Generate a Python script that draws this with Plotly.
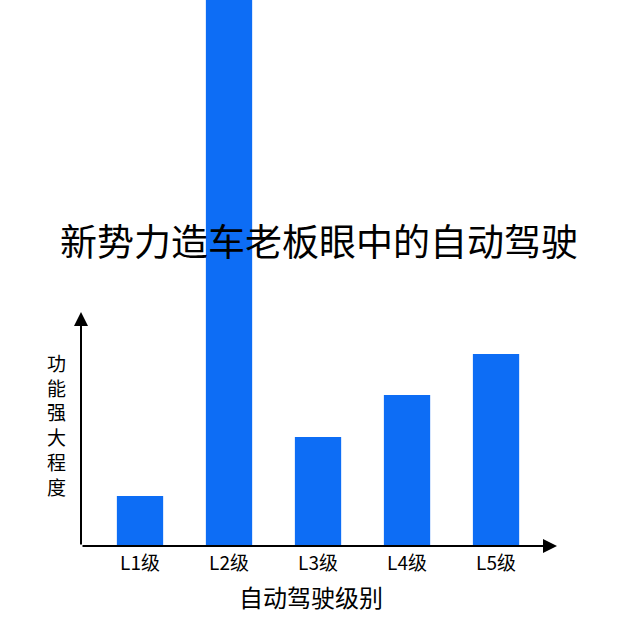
import plotly.graph_objects as go

levels = ["L1级", "L2级", "L3级", "L4级", "L5级"]
power = [1.0, 12.0, 2.18, 3.02, 3.84]

chart_title = "新势力造车老板眼中的自动驾驶"
x_label = "自动驾驶级别"
y_label = "功能强大程度"

font_family = "Noto Sans CJK SC"
bar_color = "#0D6DF5"

# plot box: x 81..557 px, y 0..546 px (50 px per unit)
x_lo, x_hi = -0.663, 4.685
y_top = 10.92
arrow_top = 4.68

fig = go.Figure()
fig.add_trace(go.Bar(
    x=levels,
    y=power,
    marker=dict(color=bar_color, line=dict(width=0)),
    width=0.52,
    hoverinfo="skip",
))

# axis arrows
fig.add_annotation(x=x_hi, y=0, ax=x_lo, ay=0, xref="x", yref="y", axref="x", ayref="y",
                   text="", showarrow=True, arrowhead=2, arrowsize=1.4, arrowwidth=2,
                   arrowcolor="black", standoff=0, startstandoff=0)
fig.add_annotation(x=x_lo, y=arrow_top, ax=x_lo, ay=0, xref="x", yref="y", axref="x", ayref="y",
                   text="", showarrow=True, arrowhead=2, arrowsize=1.4, arrowwidth=2,
                   arrowcolor="black", standoff=0, startstandoff=0)

# x axis title
fig.add_annotation(x=0.483, y=-0.0934, xref="paper", yref="paper", text=x_label,
                   showarrow=False, xanchor="center", yanchor="middle",
                   font=dict(family=font_family, size=24, color="black"))

# vertical y title, one character per line
fig.add_annotation(x=-0.0525, y=(546 - 424) / 546, xref="paper", yref="paper",
                   text="<br>".join(y_label), showarrow=False,
                   xanchor="center", yanchor="middle",
                   font=dict(family=font_family, size=19, color="black"))

fig.update_layout(
    width=640,
    height=640,
    margin=dict(l=81, r=83, t=0, b=94),
    paper_bgcolor="white",
    plot_bgcolor="white",
    showlegend=False,
    font=dict(family=font_family, color="black"),
    title=dict(text=chart_title, x=0.5, xanchor="center", xref="paper",
               y=1 - 243 / 640, yanchor="middle", yref="container",
               font=dict(family=font_family, size=37, color="black")),
    xaxis=dict(range=[x_lo, x_hi], showgrid=False, zeroline=False, showline=False,
               ticks="", tickfont=dict(size=19, color="black"), ticklabelstandoff=4),
    yaxis=dict(range=[0, y_top], showgrid=False, zeroline=False, showline=False,
               showticklabels=False, ticks=""),
)

fig.write_html("out.html", config={"displayModeBar": False},
               post_script="document.body.style.margin='0';")
